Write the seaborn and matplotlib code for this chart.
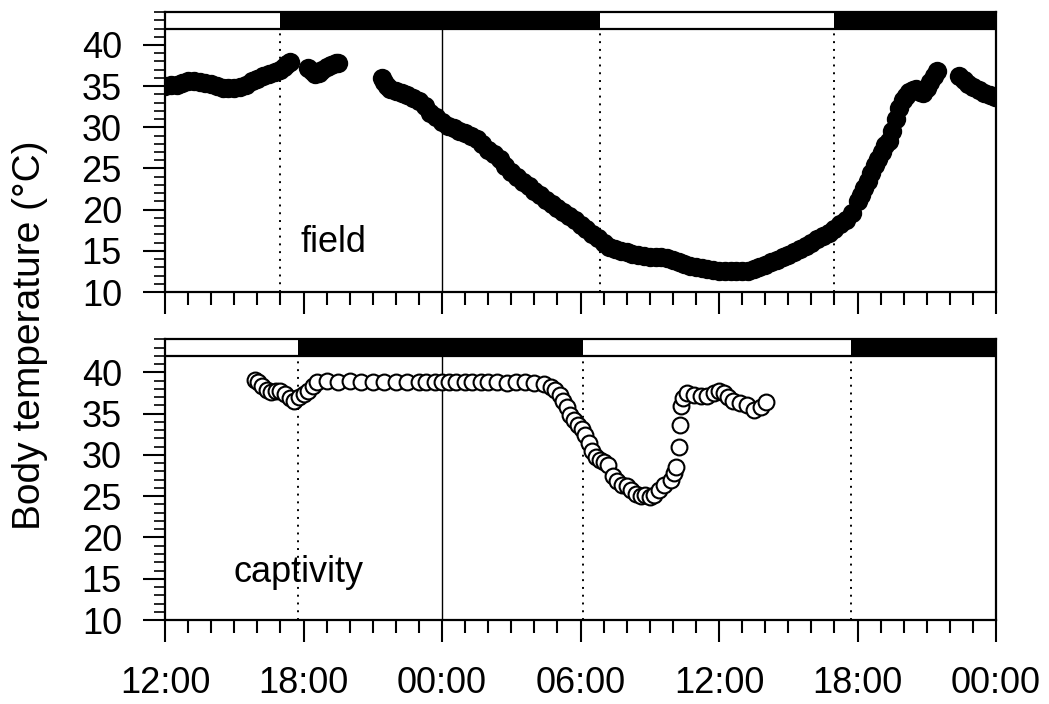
import numpy as np
import pandas as pd
import matplotlib
matplotlib.use("Agg")
import matplotlib.pyplot as plt
import seaborn as sns
from matplotlib.ticker import MultipleLocator, FixedLocator, FixedFormatter

# hours after 12:00 on day 1 (0 .. 36)
field_hours = [
    0.0, 0.25, 0.5, 0.75, 1.0, 1.25, 1.5, 1.75, 2.0, 2.25, 2.5, 2.75, 3.0, 3.25,
    3.5, 3.75, 4.0, 4.25, 4.5, 4.75, 5.0, 5.15, 5.3, 5.4,
    6.2, 6.35, 6.5, 6.65, 6.8, 7.0, 7.2, 7.4, 7.5,
    9.4, 9.5, 9.6, 9.75, 10.0, 10.25, 10.5, 10.75, 11.0, 11.25, 11.5, 11.75,
    12.0, 12.25, 12.5, 12.75, 13.0, 13.25, 13.5, 13.75, 14.0, 14.25, 14.5, 14.75,
    15.0, 15.25, 15.5, 15.75, 16.0, 16.25, 16.5, 16.75, 17.0, 17.25, 17.5, 17.75,
    18.0, 18.25, 18.5, 18.75, 19.0, 19.25, 19.5, 19.75, 20.0, 20.25, 20.5, 20.75,
    21.0, 21.25, 21.5, 21.75, 22.0, 22.25, 22.5, 22.75, 23.0, 23.25, 23.5, 23.75,
    24.0, 24.25, 24.5, 24.75, 25.0, 25.25, 25.5, 25.75, 26.0, 26.25, 26.5, 26.75,
    27.0, 27.25, 27.5, 27.75, 28.0, 28.25, 28.5, 28.75, 29.0, 29.25, 29.5, 29.75,
    30.0, 30.15, 30.3, 30.45, 30.6, 30.75, 30.9, 31.05, 31.2, 31.35, 31.5, 31.65,
    31.8, 31.95, 32.1, 32.25, 32.4, 32.55, 32.7, 32.85, 33.0, 33.15, 33.3, 33.45,
    34.4, 34.6, 34.8, 35.0, 35.25, 35.5, 35.75, 35.95,
]
field_temp = [
    35.0, 35.1, 35.2, 35.4, 35.6, 35.6, 35.5, 35.4, 35.3, 35.0, 34.8, 34.8, 34.8, 34.9,
    35.2, 35.6, 35.9, 36.2, 36.5, 36.7, 37.0, 37.3, 37.7, 37.9,
    37.2, 36.8, 36.5, 36.6, 37.0, 37.3, 37.6, 37.8, 37.8,
    36.0, 35.5, 35.0, 34.6, 34.4, 34.2, 33.9, 33.6, 33.2, 32.6, 31.8, 31.2,
    30.6, 30.2, 29.9, 29.6, 29.3, 29.0, 28.6, 28.0, 27.3, 26.7, 26.1, 25.3,
    24.6, 24.0, 23.4, 22.9, 22.3, 21.8, 21.2, 20.7, 20.2, 19.7, 19.2, 18.7,
    18.1, 17.6, 17.0, 16.5, 15.9, 15.5, 15.2, 15.0, 14.8, 14.6, 14.5, 14.4,
    14.3, 14.3, 14.2, 14.1, 13.9, 13.7, 13.4, 13.2, 13.0, 12.9, 12.8, 12.7,
    12.6, 12.5, 12.5, 12.5, 12.5, 12.6, 12.8, 13.0, 13.3, 13.6, 13.9, 14.2,
    14.5, 14.9, 15.2, 15.6, 16.0, 16.4, 16.8, 17.2, 17.7, 18.2, 18.8, 19.6,
    21.0, 21.8, 22.6, 23.5, 24.4, 25.4, 26.2, 27.0, 27.8, 28.4, 29.6, 31.0,
    32.4, 33.3, 33.8, 34.3, 34.5, 34.6, 34.3, 34.2, 34.8, 35.5, 36.2, 36.8,
    36.2, 35.8, 35.3, 34.9, 34.5, 34.2, 33.9, 33.7,
]

captivity_hours = [
    3.9, 4.05, 4.2, 4.4, 4.6, 4.8, 5.0, 5.2, 5.4, 5.6, 5.8, 6.0, 6.2, 6.4, 6.6,
    7.0, 7.5, 8.0, 8.5, 9.0, 9.5, 10.0, 10.5, 11.0, 11.3, 11.7, 12.0, 12.3, 12.6,
    13.0, 13.3, 13.7, 14.0, 14.4, 14.8, 15.2, 15.6, 16.0, 16.4, 16.7, 16.9, 17.1,
    17.25, 17.4, 17.55, 17.7, 17.9, 18.05, 18.2, 18.35, 18.5, 18.65, 18.85, 19.0,
    19.2, 19.4, 19.6, 19.8, 20.0, 20.2, 20.4, 20.6, 20.8, 21.0, 21.2, 21.4, 21.6,
    21.9, 22.05, 22.15, 22.25, 22.3, 22.35, 22.45, 22.6, 22.9, 23.2, 23.5, 23.8,
    24.0, 24.2, 24.4, 24.6, 24.9, 25.2, 25.5, 25.8, 26.05,
]
captivity_temp = [
    39.1, 38.8, 38.4, 37.9, 37.6, 37.7, 37.8, 37.4, 36.9, 36.6, 37.0, 37.4, 37.8, 38.4, 38.9,
    39.0, 38.9, 39.0, 38.9, 38.8, 38.9, 38.8, 38.9, 38.8, 38.8, 38.9, 38.8, 38.8, 38.9,
    38.8, 38.8, 38.9, 38.8, 38.8, 38.7, 38.8, 38.8, 38.7, 38.6, 38.3, 37.9, 37.3,
    36.6, 35.8, 34.8, 34.2, 33.6, 33.2, 32.4, 31.5, 30.5, 29.8, 29.4, 29.2,
    28.8, 27.5, 26.8, 26.4, 26.2, 25.8, 25.3, 25.0, 25.1, 24.9, 25.2, 25.8, 26.4,
    27.0, 27.8, 28.6, 31.0, 33.6, 35.9, 36.9, 37.5, 37.3, 37.1, 37.2, 37.5,
    37.8, 37.5, 37.0, 36.5, 36.3, 36.0, 35.4, 35.8, 36.4,
]

# light / dark bar: phase edges (hours) and whether each phase is dark
field_edges = [0, 5.0, 18.85, 29.0, 36]
captivity_edges = [0, 5.75, 18.1, 29.7, 36]
phase_dark = [False, True, False, True]

tick_hours = [0, 6, 12, 18, 24, 30, 36]
tick_labels = ["12:00", "18:00", "00:00", "06:00", "12:00", "18:00", "00:00"]

sns.set_theme(style="ticks")
plt.rcParams['font.family'] = ['Liberation Sans', 'DejaVu Sans']
for key in ['text.color', 'axes.labelcolor', 'xtick.color', 'ytick.color', 'axes.edgecolor']:
    plt.rcParams[key] = 'black'
plt.rcParams['axes.linewidth'] = 1.5

fig = plt.figure(figsize=(10.49, 7.04), dpi=100)
ax_top = fig.add_axes([0.1573, 0.5852, 0.7922, 0.3977])
ax_bot = fig.add_axes([0.1573, 0.1193, 0.7922, 0.3985])


def setup_panel(ax, edges, label, label_xy, show_xlabels):
    ax.set_xlim(0, 36)
    ax.set_ylim(10, 44)
    # light/dark bar along the top
    for a, b, dark in zip(edges[:-1], edges[1:], phase_dark):
        ax.fill_between([a, b], 42, 44, color='black' if dark else 'white', lw=0, zorder=1)
    ax.axhline(42, color='black', lw=1.6, zorder=2)
    ax.vlines(edges[1:-1], 10, 42, colors='black', linestyles=(0, (1, 3)), lw=1.4, zorder=1)
    ax.vlines([12], 10, 42, colors='black', lw=1.0, zorder=1)

    ax.xaxis.set_major_locator(FixedLocator(tick_hours))
    ax.xaxis.set_major_formatter(FixedFormatter(tick_labels))
    ax.xaxis.set_minor_locator(MultipleLocator(1))
    ax.yaxis.set_major_locator(FixedLocator([10, 15, 20, 25, 30, 35, 40]))
    ax.yaxis.set_minor_locator(MultipleLocator(1))
    ax.tick_params(axis='x', which='major', direction='out', length=16, width=1.5,
                   labelsize=26, pad=17, colors='black', labelbottom=show_xlabels)
    ax.tick_params(axis='x', which='minor', direction='out', length=9, width=1.5, colors='black')
    ax.tick_params(axis='y', which='major', direction='out', length=16, width=1.5,
                   labelsize=26, pad=15, colors='black')
    ax.tick_params(axis='y', which='minor', direction='out', length=8, width=1.2, colors='black')
    for sp in ax.spines.values():
        sp.set_visible(True)
        sp.set_color('black')
        sp.set_linewidth(1.6)
    ax.set_xlabel('')
    ax.set_ylabel('')
    ax.text(label_xy[0], label_xy[1], label, fontsize=26, color='black',
            ha='left', va='baseline')


sns.scatterplot(x=field_hours, y=field_temp, ax=ax_top, color='black', s=195,
                edgecolor='black', linewidth=0, zorder=3, legend=False)
setup_panel(ax_top, field_edges, 'field', (5.85, 14.8), False)

sns.scatterplot(x=captivity_hours, y=captivity_temp, ax=ax_bot, facecolor='white', s=130,
                edgecolor='black', linewidth=1.5, zorder=3, legend=False)
setup_panel(ax_bot, captivity_edges, 'captivity', (2.95, 14.6), True)

fig.text(30 / 1049, 1 - 335 / 704, 'Body temperature (°C)', rotation=90,
         fontsize=28, color='black', ha='center', va='center')

fig.savefig('out.png', dpi=100, facecolor='white')
